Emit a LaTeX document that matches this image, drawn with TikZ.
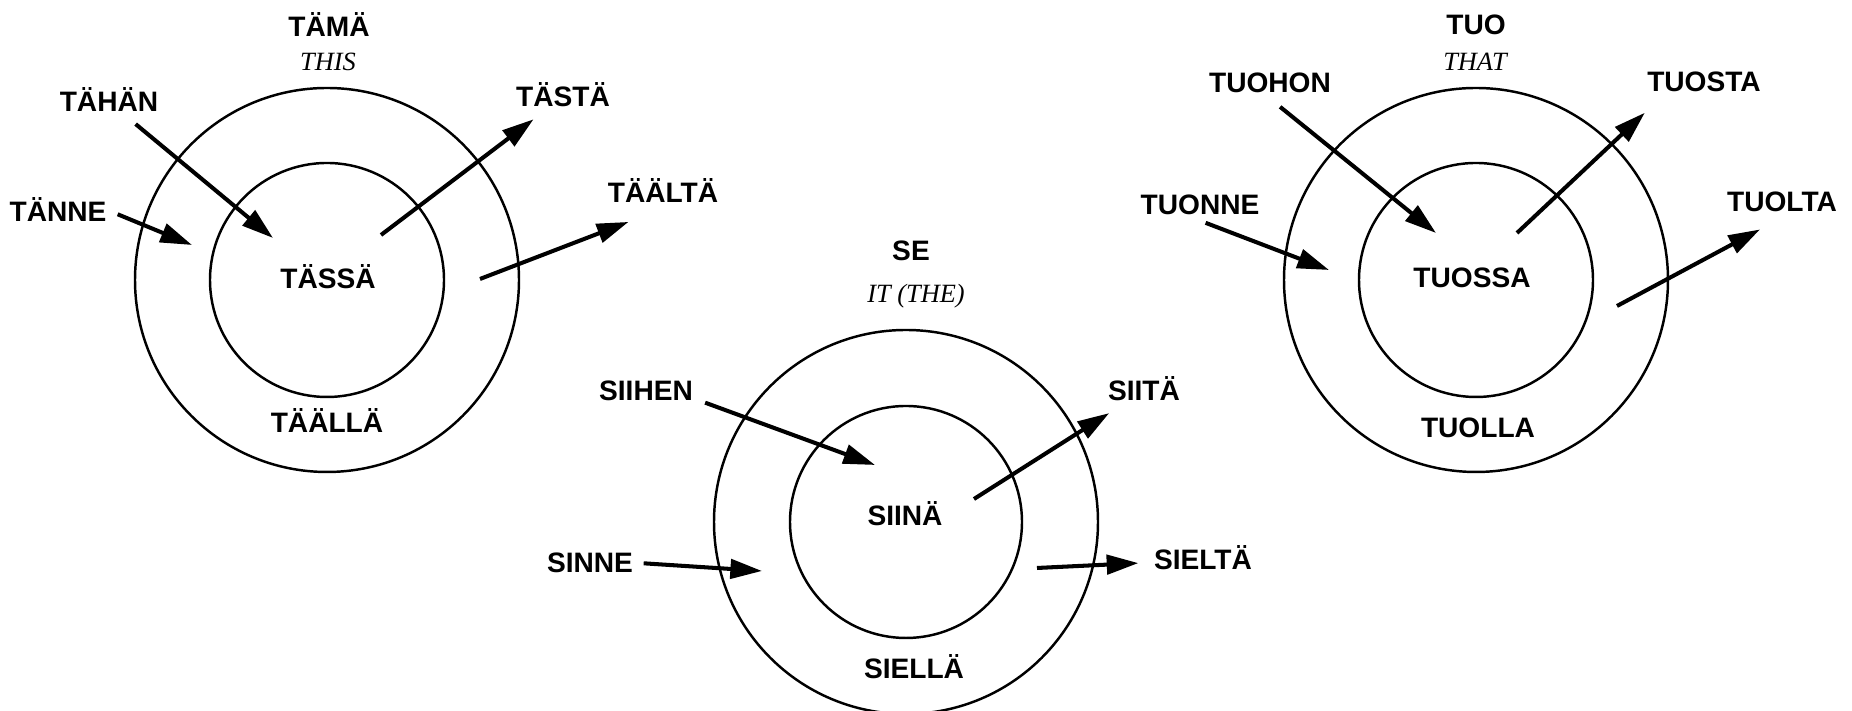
\documentclass[tikz,border=0pt]{standalone}
\usepackage{fontspec}
\setmainfont{Liberation Sans}
\newfontfamily\glossfont{Liberation Serif}
\usepackage{tikz}
\usetikzlibrary{arrows.meta}

\begin{document}
\begin{tikzpicture}[
    word/.style={font=\bfseries\fontsize{8}{9}\selectfont, inner sep=0.05cm, text height=0.2cm, text depth=0pt},
    gloss/.style={font=\glossfont\itshape\fontsize{7.5}{8}\selectfont, inner sep=0.05cm},
    ring/.style={line width=0.7pt},
    arr/.style={-{Triangle[length=9pt, width=5.5pt]}, line width=1.15pt}
]
    \fill[white] (0, 0) rectangle (18.52, 7.11);
    \useasboundingbox (0, 0) rectangle (18.52, 7.11);

    % TAMA = this
    \coordinate (c1) at (3.27, 4.31);
    \draw[ring] (c1) circle (1.92);
    \draw[ring] (c1) circle (1.17);
    \node[word] (tama) at (3.29, 6.84) {TÄMÄ};
    \node[gloss] (this) at (3.28, 6.49) {THIS};
    \node[word] (tahan) at (1.09, 6.09) {TÄHÄN};
    \node[word] (tasta) at (5.63, 6.14) {TÄSTÄ};
    \node[word] (tanne) at (0.58, 4.99) {TÄNNE};
    \node[word] (taalta) at (6.63, 5.18) {TÄÄLTÄ};
    \node[word] (tassa) at (3.28, 4.32) {TÄSSÄ};
    \node[word] (taalla) at (3.27, 2.88) {TÄÄLLÄ};
    \coordinate (tahan-tip) at (2.73, 4.73);
    \coordinate (tanne-tip) at (1.92, 4.66);
    \coordinate (tasta-from) at (3.81, 4.76);
    \coordinate (taalta-from) at (4.80, 4.32);
    \draw[arr, shorten <=0.1cm] (tahan) -- (tahan-tip);
    \draw[arr, shorten <=0.06cm] (tanne.east) -- (tanne-tip);
    \draw[arr, shorten >=0.11cm] (tasta-from) -- (tasta);
    \draw[arr, shorten >=0.37cm] (taalta-from) -- (taalta.south);

    % SE = it (the)
    \coordinate (c2) at (9.06, 1.89);
    \draw[ring] (c2) circle (1.92);
    \draw[ring] (c2) circle (1.16);
    \node[word] (se) at (9.11, 4.60) {SE};
    \node[gloss] (it) at (9.16, 4.15) {IT (THE)};
    \node[word] (siihen) at (6.46, 3.20) {SIIHEN};
    \node[word] (siita) at (11.44, 3.20) {SIITÄ};
    \node[word] (sinne) at (5.90, 1.48) {SINNE};
    \node[word] (sielta) at (12.03, 1.51) {SIELTÄ};
    \node[word] (siina) at (9.05, 1.95) {SIINÄ};
    \node[word] (siella) at (9.14, 0.42) {SIELLÄ};
    \coordinate (siihen-tip) at (8.75, 2.46);
    \coordinate (sinne-tip) at (7.62, 1.40);
    \coordinate (siita-from) at (9.74, 2.12);
    \coordinate (sielta-from) at (10.37, 1.43);
    \draw[arr, shorten <=0.07cm] (siihen.-10) -- (siihen-tip);
    \draw[arr, shorten <=0.05cm] (sinne.east) -- (sinne-tip);
    \draw[arr, shorten >=0.12cm] (siita-from) -- (siita);
    \draw[arr, shorten >=0.1cm] (sielta-from) -- (sielta);

    % TUO = that
    \coordinate (c3) at (14.76, 4.31);
    \draw[ring] (c3) circle (1.92);
    \draw[ring] (c3) circle (1.17);
    \node[word] (tuo) at (14.76, 6.86) {TUO};
    \node[gloss] (that) at (14.75, 6.49) {THAT};
    \node[word] (tuohon) at (12.70, 6.28) {TUOHON};
    \node[word] (tuosta) at (17.04, 6.29) {TUOSTA};
    \node[word] (tuonne) at (12.00, 5.06) {TUONNE};
    \node[word] (tuolta) at (17.82, 5.09) {TUOLTA};
    \node[word] (tuossa) at (14.72, 4.33) {TUOSSA};
    \node[word] (tuolla) at (14.78, 2.83) {TUOLLA};
    \coordinate (tuohon-tip) at (14.36, 4.78);
    \coordinate (tuonne-tip) at (13.29, 4.41);
    \coordinate (tuosta-from) at (15.17, 4.78);
    \coordinate (tuolta-from) at (16.17, 4.05);
    \draw[arr, shorten <=0.13cm] (tuohon.south) -- (tuohon-tip);
    \draw[arr, shorten <=0.06cm] (tuonne.south) -- (tuonne-tip);
    \draw[arr, shorten >=0.22cm] (tuosta-from) -- (tuosta.-160);
    \draw[arr, shorten >=0.25cm] (tuolta-from) -- (tuolta.south);
\end{tikzpicture}
\end{document}
